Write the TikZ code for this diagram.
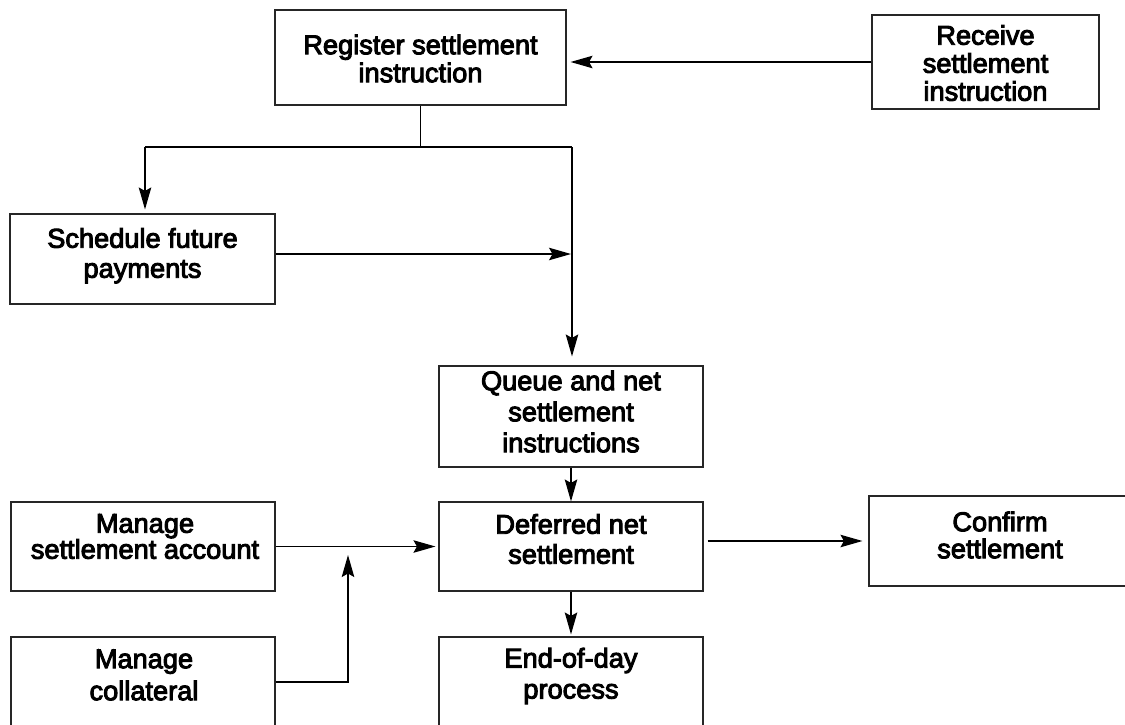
\documentclass[tikz,border=0pt]{standalone}
\usepackage{fontspec}
\setmainfont{Liberation Sans}
\newfontfamily\boxfont{Liberation Sans}[FakeBold=3.5]
\usetikzlibrary{arrows.meta}
\begin{document}
\begin{tikzpicture}[x=1pt,y=-1pt,
  box/.style={draw=black!85, line width=1.1pt, inner sep=0pt},
  txt/.style={align=center, inner sep=0pt, font=\boxfont\fontsize{27.2}{#1}\selectfont},
  txt/.default=30,
  link/.style={draw=black, line width=1.3pt},
  arr/.style={link, -{Stealth[length=22pt,width=12.5pt,inset=3.5pt]}}]
\useasboundingbox (0,0) rectangle (1125,724);

% process boxes
\node[box, minimum width=291pt, minimum height=95pt] (reg)   at (420.5,57.5) {};
\node[box, minimum width=227pt, minimum height=94pt] (rec)   at (985.5,62)   {};
\node[box, minimum width=265pt, minimum height=90pt] (sched) at (142.5,259)  {};
\node[box, minimum width=264pt, minimum height=101pt] (queue) at (571,416.5) {};
\node[box, minimum width=264pt, minimum height=89pt] (msa)   at (143,546.5)  {};
\node[box, minimum width=264pt, minimum height=89pt] (dns)   at (571,546.5)  {};
\node[box, minimum width=262pt, minimum height=90pt] (conf)  at (1000,541)   {};
\node[box, minimum width=264pt, minimum height=90pt] (coll)  at (143,682)    {};
\node[box, minimum width=264pt, minimum height=90pt] (eod)   at (571,682)    {};

% box captions
\node[txt=28] (reg-t)   at (420.5,58.5) {Register settlement\\instruction};
\node[txt=28] (rec-t)   at (985.5,63)   {Receive\\settlement\\instruction};
\node[txt=30] (sched-t) at (142.5,255.7) {Schedule future\\payments};
\node[txt=31] (queue-t) at (571,411.5)  {Queue and net\\settlement\\instructions};
\node[txt=26] (msa-t)   at (145,536.5)  {Manage\\settlement account};
\node[txt=30] (dns-t)   at (571,539)    {Deferred net\\settlement};
\node[txt=27] (conf-t)  at (1000,535)   {Confirm\\settlement};
\node[txt=32] (coll-t)  at (144,675)    {Manage\\collateral};
\node[txt=31] (eod-t)   at (571,676)    {End-of-day\\process};

% junction points
\coordinate (jl) at (145,147);
\coordinate (jr) at (572,147);
\coordinate (sj) at (571,254);
\coordinate (cj) at (348,555);

% connectors
\draw[arr, shorten >=4pt] (rec.west) -- (reg.east |- rec.west);
\draw[link] (reg.south) -- (reg.south |- jl);
\draw[link] (jl) -- (jr);
\draw[arr, shorten >=4pt] (jl) -- (jl |- sched.north);
\draw[arr, shorten >=9pt] (jr) -- (jr |- queue.north);
\draw[arr] (sched.east |- sj) -- (sj);
\draw[arr] (queue.south) -- (dns.north);
\draw[arr, shorten >=3pt] (msa.east) -- (dns.west);
\draw[arr] (coll.east) -| (cj);
\draw[arr, shorten <=4pt, shorten >=6pt] (dns.east |- conf.west) -- (conf.west);
\draw[arr, shorten >=2pt] (dns.south) -- (eod.north);
\end{tikzpicture}
\end{document}
